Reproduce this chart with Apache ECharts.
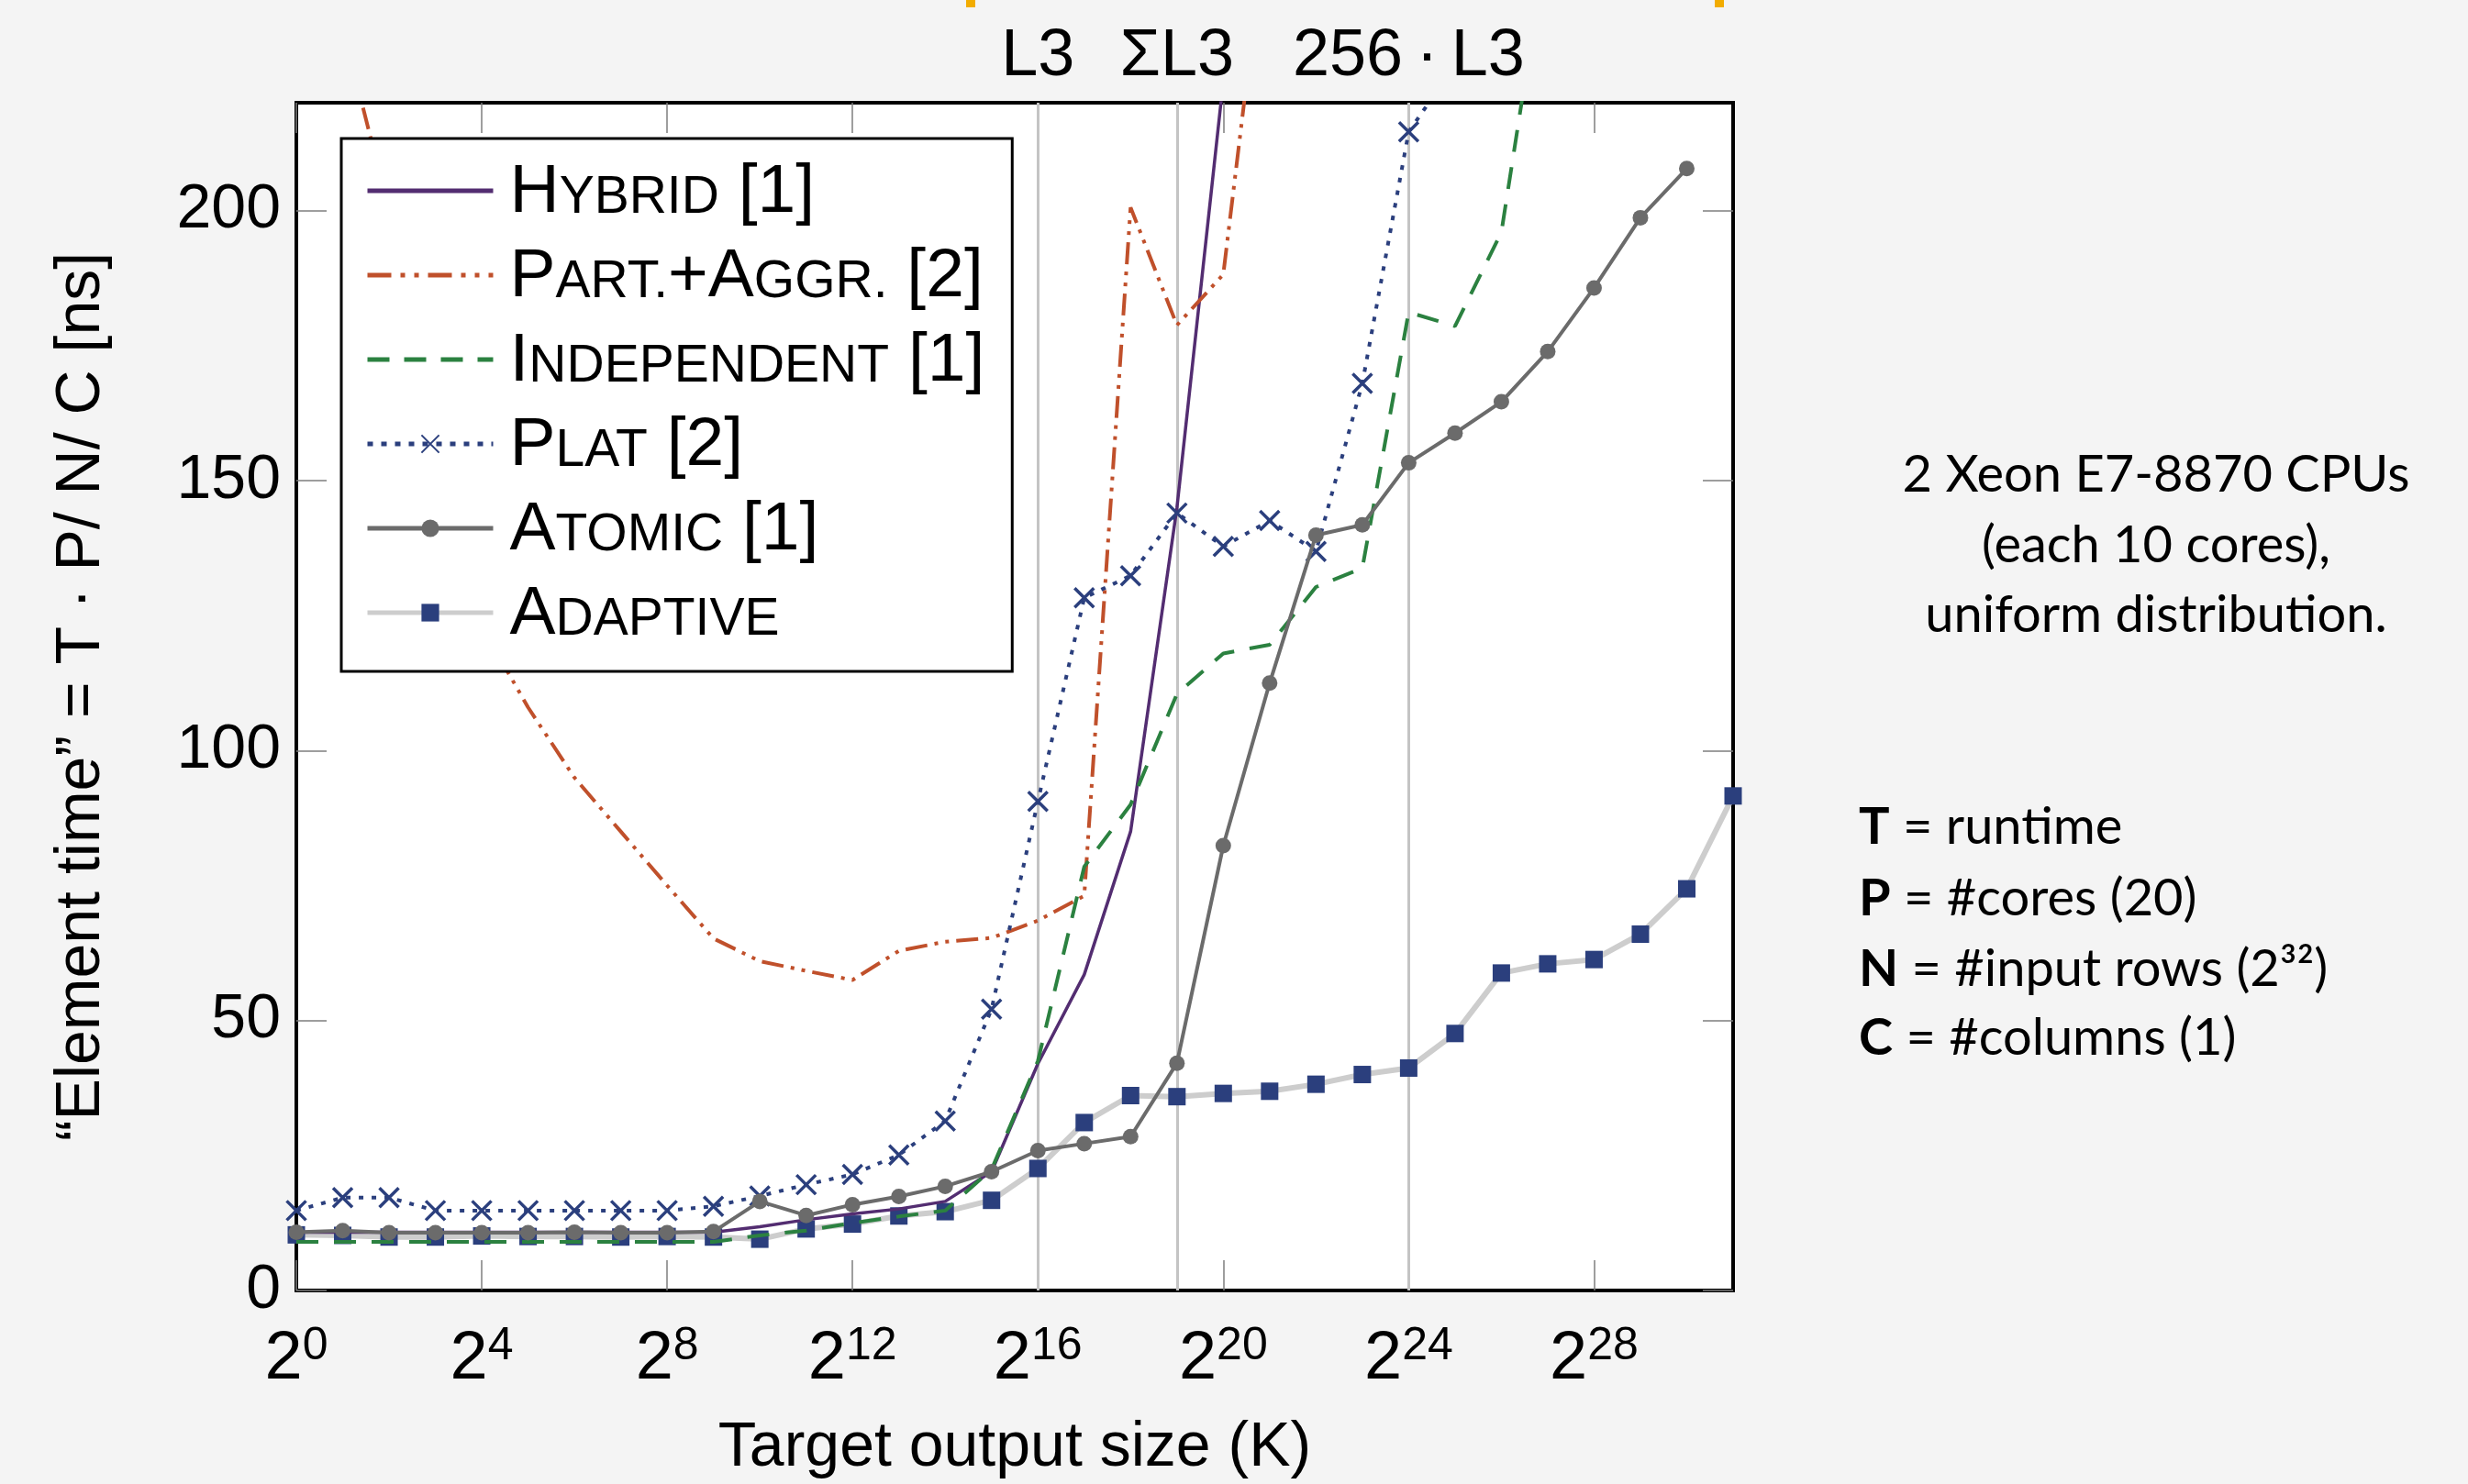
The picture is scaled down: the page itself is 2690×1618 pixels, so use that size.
<!DOCTYPE html>
<html>
<head>
<meta charset="utf-8">
<title>Element time vs target output size</title>
<script src="https://cdn.jsdelivr.net/npm/echarts@6/dist/echarts.min.js"></script>
<style>
  html, body { margin: 0; padding: 0; background: #f4f4f4; }
  #chart { width: 2690px; height: 1618px; }
</style>
</head>
<body>
<div id="chart"></div>
<script>
// x = log2 of target output size, y = element time in ns
const exponents = [0, 1, 2, 3, 4, 5, 6, 7, 8, 9, 10, 11, 12, 13, 14, 15, 16, 17, 18, 19, 20, 21, 22, 23, 24, 25, 26, 27, 28, 29, 30, 31];

const hybrid = [10.8, 10.8, 10.8, 10.8, 10.8, 10.8, 10.8, 10.8, 10.8, 10.8, 11.8, 13.1, 14.2, 15.1, 16.5, 22, 42, 58.5, 85, 145, 224];
const partAggr = [265, 234, 200, 160, 123, 108, 95, 85, 75, 65.2, 61, 59.2, 57.5, 62.9, 64.6, 65.3, 68.5, 73.1, 200.6, 178.8, 188.2, 259];
const independent = [9, 9, 9, 9, 9, 9, 9, 9, 9, 9, 10.2, 11.1, 12.5, 13.7, 14.8, 22.4, 42.5, 78.5, 90, 110.5, 118, 119.6, 130.3, 133.8, 181.2, 178.6, 196, 251];
const plat = [14.8, 17.2, 17.2, 14.8, 14.8, 14.8, 14.8, 14.8, 14.8, 15.6, 17.5, 19.6, 21.5, 25.1, 31.4, 52.1, 90.6, 128.3, 132.4, 144, 137.8, 142.6, 136.9, 168, 214.6, 227];
const atomic = [10.8, 11.1, 10.7, 10.7, 10.7, 10.7, 10.8, 10.7, 10.7, 10.9, 16.5, 13.9, 15.9, 17.4, 19.3, 22, 25.9, 27.2, 28.5, 42.1, 82.4, 112.5, 139.9, 141.8, 153.3, 158.8, 164.6, 173.9, 185.7, 198.7, 207.8];
const adaptive = [10.3, 10.2, 9.9, 9.9, 10.1, 10, 10, 9.9, 10, 9.9, 9.5, 11.4, 12.3, 13.8, 14.6, 16.7, 22.6, 31.1, 36.1, 35.9, 36.5, 36.9, 38.2, 40, 41.2, 47.6, 58.8, 60.5, 61.3, 66, 74.4, 91.6];

const seriesNames = ['Hybrid [1]', 'Part.+Aggr. [2]', 'Independent [1]', 'Plat [2]', 'Atomic [1]', 'Adaptive'];

// tick positions
const xTicks = [0, 4, 8, 12, 16, 20, 24, 28];
const yTicks = [0, 50, 100, 150, 200];

// cache size markers on the x axis
const cacheExponents = [16, 19, 24];
const cacheLabels = ['L3', 'ΣL3', '256\u2009·\u2009L3'];

const setupLines = ['2 Xeon E7-8870 CPUs', '(each 10 cores),', 'uniform distribution.'];
const symbolKeys = ['T', 'P', 'N', 'C'];
const symbolTexts = [' = runtime', ' = #cores (20)', ' = #input rows (2³²)', ' = #columns (1)'];

const FONT = 'Liberation Sans';
const NOTE_FONT = 'Lato';

function pairs(values) {
  return values.map((v, i) => [exponents[i], v]);
}

// "Hybrid [1]" -> big first letters, small caps for the rest
function smallCaps(name) {
  let out = '{g|}';
  let cur = '';
  let key = null;
  for (const ch of name) {
    const k = /[a-z.]/.test(ch) ? 's' : 'c';
    if (k !== key && cur) {
      out += '{' + key + '|' + cur + '}';
      cur = '';
    }
    key = k;
    cur += k === 's' ? ch.toUpperCase() : ch;
  }
  if (cur) out += '{' + key + '|' + cur + '}';
  return out;
}

const chart = echarts.init(document.getElementById('chart'));

function ticks(values) {
  return { show: true, inside: true, length: 33, customValues: values, lineStyle: { color: '#7f7f7f', width: 1.5 } };
}
// frame is drawn by the grid border; axes only carry ticks
const noLine = { show: false, onZero: false };

const graphics = [
  { type: 'rect', shape: { x: 1053, y: 0, width: 10, height: 8 }, style: { fill: '#f2ac00' } },
  { type: 'rect', shape: { x: 1869, y: 0, width: 10, height: 8 }, style: { fill: '#f2ac00' } }
];
const setupY = [518, 595, 671];
setupLines.forEach((t, i) => {
  graphics.push({
    type: 'text', x: 2350, y: setupY[i],
    style: { text: t, font: '56px ' + NOTE_FONT, fill: '#000', align: 'center', verticalAlign: 'middle' }
  });
});
const symbolY = [902, 980, 1057, 1132];
symbolKeys.forEach((k, i) => {
  graphics.push({
    type: 'text', x: 2026, y: symbolY[i],
    style: {
      text: '{b|' + k + '}{n|' + symbolTexts[i] + '}',
      fill: '#000', verticalAlign: 'middle',
      rich: {
        b: { fontFamily: NOTE_FONT, fontSize: 56, fontWeight: 'bold', fill: '#000' },
        n: { fontFamily: NOTE_FONT, fontSize: 56, fill: '#000' }
      }
    }
  });
});

// legend entries: line-only series get an invisible symbol
const hidden = { color: 'rgba(0,0,0,0)', borderWidth: 0 };
const legendStyles = {
  'Hybrid [1]': { itemStyle: hidden, lineStyle: { width: 5 } },
  'Part.+Aggr. [2]': { itemStyle: hidden, lineStyle: { width: 5, type: [26, 10, 5, 10, 5, 10] } },
  'Independent [1]': { itemStyle: hidden, lineStyle: { width: 5, type: [24, 16] } },
  'Plat [2]': { lineStyle: { width: 5, type: [6, 9] } },
  'Atomic [1]': { lineStyle: { width: 5 } },
  'Adaptive': { lineStyle: { width: 5 } }
};

const option = {
  animation: false,
  backgroundColor: '#f4f4f4',
  grid: {
    left: 323, right: 801, top: 112, bottom: 209,
    show: true, backgroundColor: '#fff', borderColor: '#000', borderWidth: 4
  },
  xAxis: [
    {
      type: 'value', min: 0, max: 31, position: 'bottom',
      axisLine: noLine, splitLine: { show: false }, axisTick: ticks(xTicks),
      axisLabel: {
        margin: 36, customValues: xTicks,
        formatter: v => '{b|2}{s|' + v + '}',
        rich: {
          b: { fontFamily: FONT, fontSize: 74, color: '#000', lineHeight: 80 },
          s: { fontFamily: FONT, fontSize: 50, color: '#000', verticalAlign: 'top', lineHeight: 50 }
        }
      },
      name: 'Target output size (K)', nameLocation: 'middle', nameGap: 138,
      nameTextStyle: { fontFamily: FONT, fontSize: 68, color: '#000' }
    },
    {
      type: 'value', min: 0, max: 31, position: 'top',
      axisLine: noLine, splitLine: { show: false }, axisTick: ticks(xTicks),
      axisLabel: { show: false }
    }
  ],
  yAxis: [
    {
      type: 'value', min: 0, max: 220, position: 'left',
      axisLine: noLine, splitLine: { show: false }, axisTick: ticks(yTicks),
      axisLabel: { margin: 17, customValues: yTicks, fontFamily: FONT, fontSize: 68, color: '#000' },
      name: '“Element time” = T · P/ N/ C [ns]', nameLocation: 'middle', nameGap: 200,
      nameTextStyle: { fontFamily: FONT, fontSize: 68, color: '#000' }
    },
    {
      type: 'value', min: 0, max: 220, position: 'right',
      axisLine: noLine, splitLine: { show: false }, axisTick: ticks(yTicks),
      axisLabel: { show: false }
    }
  ],
  legend: {
    data: seriesNames.map(n => Object.assign({ name: n }, legendStyles[n])),
    orient: 'vertical', left: 372, top: 151,
    padding: [22, 30, 24, 26],
    itemGap: 17, itemWidth: 137, itemHeight: 24,
    backgroundColor: '#fff', borderColor: '#000', borderWidth: 3,
    selectedMode: false,
    formatter: smallCaps,
    textStyle: {
      rich: {
        g: { width: 13, lineHeight: 80 },
        c: { fontFamily: FONT, fontSize: 75, color: '#000', lineHeight: 80, verticalAlign: 'bottom' },
        s: { fontFamily: FONT, fontSize: 57, color: '#000', lineHeight: 80, verticalAlign: 'bottom', padding: [0, 0, 3, 0] }
      }
    }
  },
  graphic: graphics,
  series: [
    {
      name: 'cache', type: 'line', data: [], silent: true,
      markLine: {
        z: 1, silent: true, symbol: ['none', 'none'],
        lineStyle: { color: '#c4c4c4', width: 3, type: 'solid' },
        label: { show: true, position: 'end', distance: 14, formatter: '{b}', fontFamily: FONT, fontSize: 72, color: '#000' },
        data: cacheExponents.map((x, i) => ({ xAxis: x, name: cacheLabels[i] }))
      }
    },
    {
      name: 'Adaptive', type: 'line', data: pairs(adaptive), z: 2,
      symbol: 'rect', symbolSize: 19,
      lineStyle: { color: '#cdcdcd', width: 6 },
      itemStyle: { color: '#2b3f7d' }
    },
    {
      name: 'Hybrid [1]', type: 'line', data: pairs(hybrid), z: 3, symbol: 'none',
      lineStyle: { color: '#532d71', width: 3.5 }, itemStyle: { color: '#532d71' }
    },
    {
      name: 'Part.+Aggr. [2]', type: 'line', data: pairs(partAggr), z: 3, symbol: 'none',
      lineStyle: { color: '#c0502b', width: 4, type: [24, 8, 4, 8, 4, 8] }, itemStyle: { color: '#c0502b' }
    },
    {
      name: 'Independent [1]', type: 'line', data: pairs(independent), z: 3, symbol: 'none',
      lineStyle: { color: '#2b8140', width: 4, type: [24, 17] }, itemStyle: { color: '#2b8140' }
    },
    {
      name: 'Plat [2]', type: 'line', data: pairs(plat), z: 3,
      symbol: 'path://M0,0L10,10M10,0L0,10', symbolSize: 21,
      lineStyle: { color: '#2b3f7d', width: 4, type: [5, 9] },
      itemStyle: { color: '#2b3f7d', borderColor: '#2b3f7d', borderWidth: 3.5 }
    },
    {
      name: 'Atomic [1]', type: 'line', data: pairs(atomic), z: 4,
      symbol: 'circle', symbolSize: 17,
      lineStyle: { color: '#6b6b6b', width: 4 }, itemStyle: { color: '#6b6b6b' }
    }
  ]
};

chart.setOption(option);
</script>
</body>
</html>
